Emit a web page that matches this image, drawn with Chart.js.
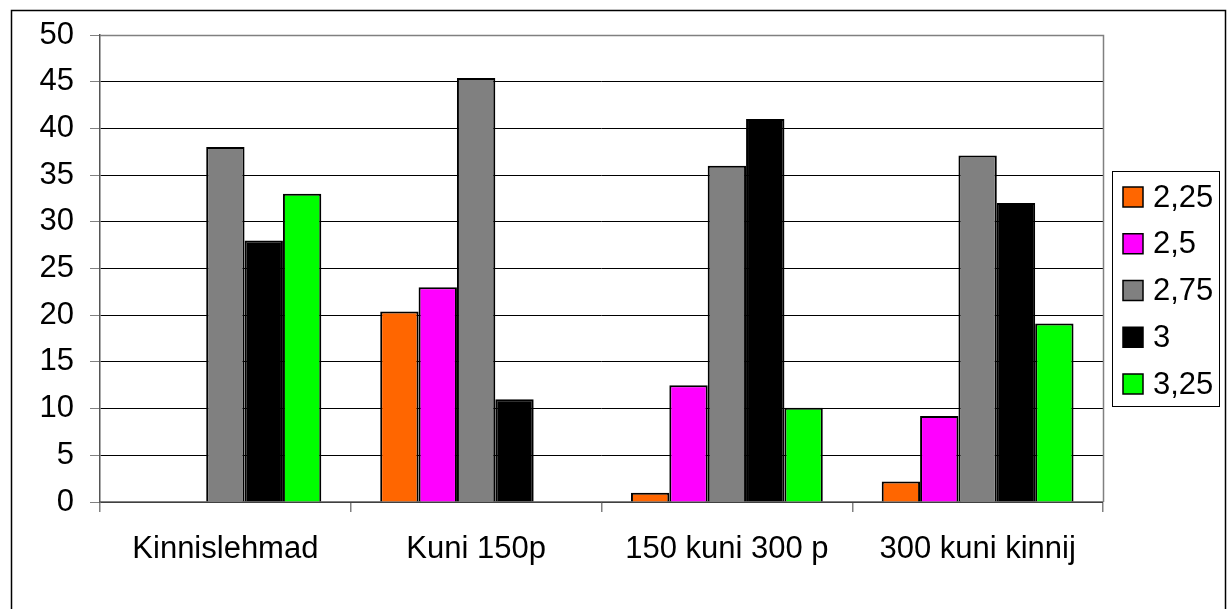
<!DOCTYPE html>
<html>
<head>
<meta charset="utf-8">
<script src="https://cdn.jsdelivr.net/npm/chart.js@4"></script>
<style>
  html, body { margin: 0; padding: 0; background: #fff; }
  #wrap { width: 1229px; height: 609px; }
</style>
</head>
<body>
<div id="wrap"><canvas id="chart" width="1229" height="609"></canvas></div>
<script>
"use strict";

const categories = ['Kinnislehmad', 'Kuni 150p', '150 kuni 300 p', '300 kuni kinnij'];
const seriesNames = ['2,25', '2,5', '2,75', '3', '3,25'];

const s225 = [0, 20.4, 1.0, 2.2];
const s25  = [0, 23.0, 12.5, 9.2];
const s275 = [38.0, 45.4, 36.0, 37.1];
const s3   = [28.0, 11.0, 41.0, 32.0];
const s325 = [33.0, 0, 10.1, 19.1];

const yTicks = [0, 5, 10, 15, 20, 25, 30, 35, 40, 45, 50];

const colors = ['#FF6600', '#FF00FF', '#808080', '#000000', '#00FF00'];
const FONT = "'Liberation Sans', Arial, sans-serif";
const FONT_SIZE = 31;

const seriesValues = [s225, s25, s275, s3, s325];

// frame, plot border and boxed legend, the way the spreadsheet drew them
const decor = {
  id: 'decor',
  beforeDraw(chart) {
    const ctx = chart.ctx;
    ctx.save();
    ctx.fillStyle = '#fff';
    ctx.fillRect(0, 0, chart.width, chart.height);
    ctx.strokeStyle = '#000';
    ctx.lineWidth = 1.5;
    ctx.strokeRect(11.5, 10.5, 1214, 700);
    ctx.restore();
  },
  afterDraw(chart) {
    const ctx = chart.ctx;
    const a = chart.chartArea;
    ctx.save();
    ctx.strokeStyle = '#808080';
    ctx.lineWidth = 1.5;
    ctx.beginPath();
    ctx.moveTo(a.left, a.top + 0.5);
    ctx.lineTo(a.right + 0.5, a.top + 0.5);
    ctx.lineTo(a.right + 0.5, a.bottom);
    ctx.stroke();

    // legend
    ctx.strokeStyle = '#000';
    ctx.lineWidth = 1;
    ctx.strokeRect(1112.5, 171.5, 107, 235);
    ctx.font = FONT_SIZE + 'px ' + FONT;
    ctx.textBaseline = 'middle';
    ctx.textAlign = 'left';
    chart.data.datasets.forEach((ds, i) => {
      const cy = 197 + i * 46.75;
      ctx.fillStyle = ds.backgroundColor;
      ctx.fillRect(1123, cy - 10, 20, 20);
      ctx.lineWidth = 1.5;
      ctx.strokeStyle = '#000';
      ctx.strokeRect(1123, cy - 10, 20, 20);
      ctx.fillStyle = '#000';
      ctx.fillText(ds.label, 1153, cy + 1);
    });
    ctx.restore();
  }
};

new Chart(document.getElementById('chart'), {
  type: 'bar',
  data: {
    labels: categories,
    datasets: seriesNames.map((name, i) => ({
      label: name,
      data: seriesValues[i],
      backgroundColor: colors[i],
      borderColor: '#000',
      borderWidth: 2,
      categoryPercentage: 0.765,
      barPercentage: 1.0,
    })),
  },
  options: {
    responsive: false,
    animation: false,
    events: [],
    layout: { padding: { top: 35, right: 126, left: 0, bottom: 0 } },
    plugins: {
      legend: { display: false },
      tooltip: { enabled: false },
    },
    scales: {
      x: {
        afterFit(scale) { scale.height = 107; },
        grid: {
          offset: true,
          drawOnChartArea: false,
          drawTicks: true,
          tickLength: 10,
          color: '#808080',
          lineWidth: 1.5,
        },
        border: { color: '#808080', width: 1.5 },
        ticks: {
          color: '#000',
          padding: 19,
          font: { family: FONT, size: FONT_SIZE },
        },
      },
      y: {
        min: 0,
        max: 50,
        afterFit(scale) { scale.width = 100; },
        afterBuildTicks(scale) { scale.ticks = yTicks.map(v => ({ value: v })); },
        grid: {
          color: '#000',
          lineWidth: 1,
          drawTicks: true,
          tickLength: 10,
          tickColor: '#808080',
        },
        border: { color: '#555', width: 1.5 },
        ticks: {
          color: '#000',
          padding: 16,
          font: { family: FONT, size: FONT_SIZE },
        },
      },
    },
  },
  plugins: [decor],
});
</script>
</body>
</html>
